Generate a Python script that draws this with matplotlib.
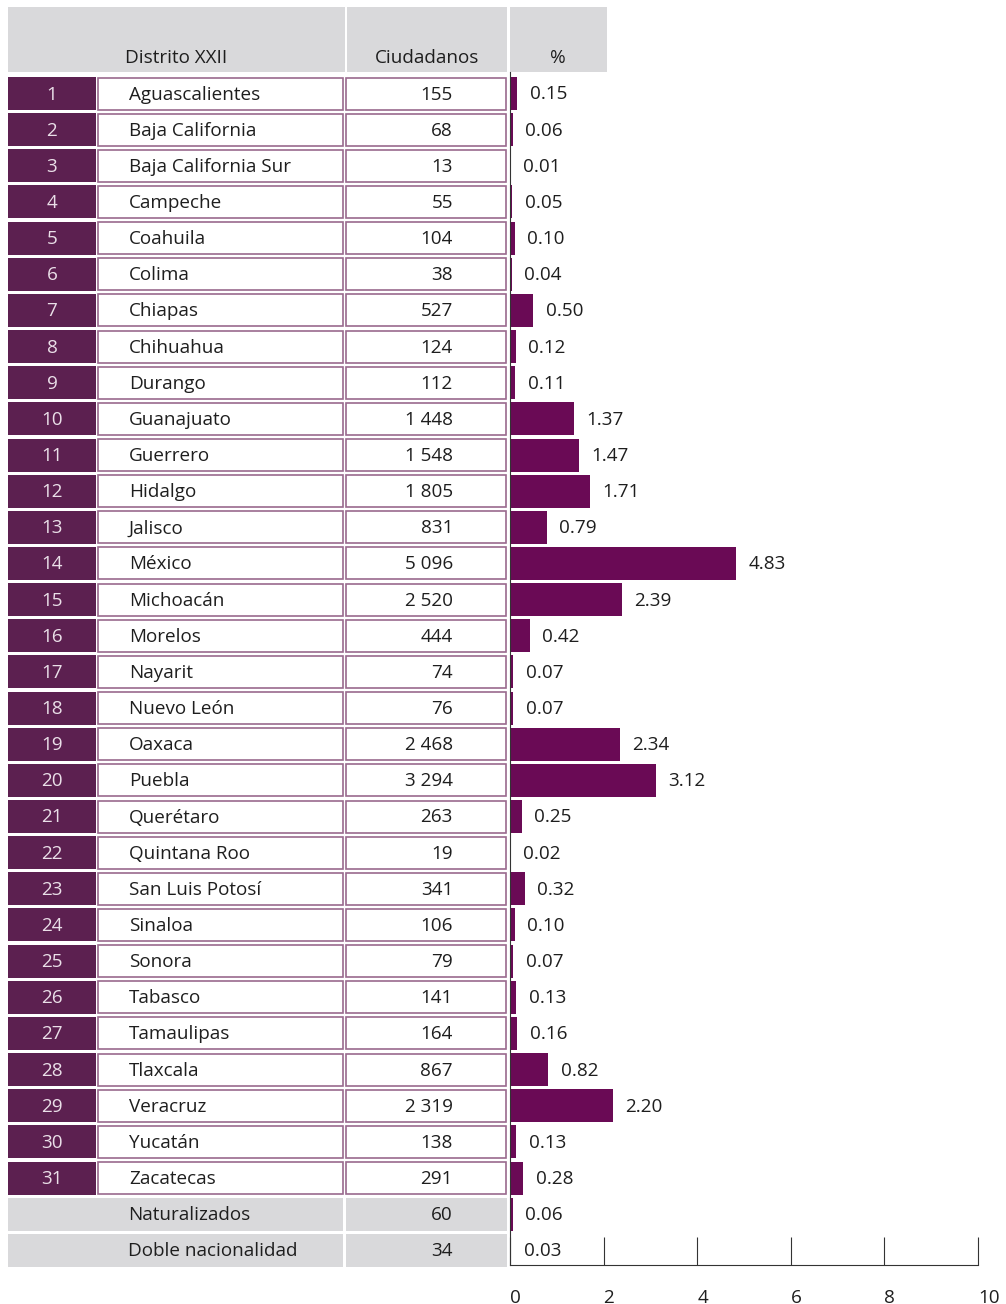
import numpy as np
import matplotlib.pyplot as plt
from matplotlib.patches import Rectangle

plt.rcParams['font.family'] = ['Open Sans', 'DejaVu Sans']

estados = ["Aguascalientes", "Baja California", "Baja California Sur", "Campeche",
           "Coahuila", "Colima", "Chiapas", "Chihuahua", "Durango", "Guanajuato",
           "Guerrero", "Hidalgo", "Jalisco", "México", "Michoacán", "Morelos",
           "Nayarit", "Nuevo León", "Oaxaca", "Puebla", "Querétaro", "Quintana Roo",
           "San Luis Potosí", "Sinaloa", "Sonora", "Tabasco", "Tamaulipas",
           "Tlaxcala", "Veracruz", "Yucatán", "Zacatecas"]
ciudadanos = [155, 68, 13, 55, 104, 38, 527, 124, 112, 1448, 1548, 1805, 831, 5096,
              2520, 444, 74, 76, 2468, 3294, 263, 19, 341, 106, 79, 141, 164, 867,
              2319, 138, 291]
porcentaje = [0.15, 0.06, 0.01, 0.05, 0.10, 0.04, 0.50, 0.12, 0.11, 1.37, 1.47, 1.71,
              0.79, 4.83, 2.39, 0.42, 0.07, 0.07, 2.34, 3.12, 0.25, 0.02, 0.32, 0.10,
              0.07, 0.13, 0.16, 0.82, 2.20, 0.13, 0.28]
extra_nombres = ["Naturalizados", "Doble nacionalidad"]
extra_ciudadanos = [60, 34]
extra_porcentaje = [0.06, 0.03]
encabezados = ["Distrito XXII", "Ciudadanos", "%"]
ticks = [0, 2, 4, 6, 8, 10]

morado = "#5c2050"
barra = "#6a0a55"
borde = "#9a6a8e"
gris = "#d9d9db"
texto = "#1e1e1e"
fs = 13.6

W, H = 1006, 1304
y0, paso, alto = 93.5, 36.15, 33


def fmt(v):
    return f"{v:,}".replace(",", " ")


fig = plt.figure(figsize=(W / 100, H / 100), dpi=100)
bg = fig.add_axes([0, 0, 1, 1])
bg.set_xlim(0, W)
bg.set_ylim(H, 0)
bg.axis('off')

# encabezado
bg.add_patch(Rectangle((8, 7), 337, 65, color=gris, lw=0))
bg.add_patch(Rectangle((347, 7), 160, 65, color=gris, lw=0))
bg.add_patch(Rectangle((510, 7), 97, 65, color=gris, lw=0))
bg.text(176, 58, encabezados[0], ha='center', va='center', fontsize=fs, color=texto)
bg.text(427, 58, encabezados[1], ha='center', va='center', fontsize=fs, color=texto)
bg.text(558, 58, encabezados[2], ha='center', va='center', fontsize=fs, color=texto)

for i, (nom, c) in enumerate(zip(estados, ciudadanos)):
    yc = y0 + i * paso
    top = yc - alto / 2
    bg.add_patch(Rectangle((8, top), 88, alto, color=morado, lw=0))
    bg.add_patch(Rectangle((98.5, top + 0.5), 244.5, alto - 1, facecolor='white',
                           edgecolor=borde, lw=1.2))
    bg.add_patch(Rectangle((346.5, top + 0.5), 160, alto - 1, facecolor='white',
                           edgecolor=borde, lw=1.2))
    bg.text(52, yc + 1, str(i + 1), ha='center', va='center', fontsize=fs, color='#eadfe8')
    bg.text(129, yc + 1, nom, ha='left', va='center', fontsize=fs, color=texto)
    bg.text(453, yc + 1, fmt(c), ha='right', va='center', fontsize=fs, color=texto)

for j, (nom, c) in enumerate(zip(extra_nombres, extra_ciudadanos)):
    yc = y0 + (len(estados) + j) * paso
    top = yc - alto / 2
    bg.add_patch(Rectangle((8, top), 335, alto, color=gris, lw=0))
    bg.add_patch(Rectangle((346, top), 161, alto, color=gris, lw=0))
    bg.text(128, yc + 1, nom, ha='left', va='center', fontsize=fs, color=texto)
    bg.text(453, yc + 1, fmt(c), ha='right', va='center', fontsize=fs, color=texto)

# barras
x_left, x_right = 510, 978
y_top, y_bot = 72, 1265
ax = fig.add_axes([x_left / W, (H - y_bot) / H, (x_right - x_left) / W, (y_bot - y_top) / H])
ax.patch.set_alpha(0)
valores = porcentaje + extra_porcentaje
pos = np.arange(len(valores))
ax.barh(pos, valores, height=alto / paso, color=barra, lw=0)
for p, v in zip(pos, valores):
    ax.annotate(f"{v:.2f}", (v, p), xytext=(9, -0.7), textcoords='offset points',
                ha='left', va='center', fontsize=fs, color=texto)
ax.set_xlim(0, 10)
ax.set_ylim((y_bot - y0) / paso, (y_top - y0) / paso)
ax.set_xticks(ticks)
ax.set_xticklabels([str(t) for t in ticks])
for lab in ax.get_xticklabels():
    lab.set_horizontalalignment('left')
ax.set_yticks([])
ax.tick_params(axis='x', direction='in', length=20, width=0.8, color='#333333',
               pad=17, labelsize=fs, labelcolor=texto)
for s in ['top', 'right']:
    ax.spines[s].set_visible(False)
for s in ['left', 'bottom']:
    ax.spines[s].set_linewidth(0.8)
    ax.spines[s].set_color('#333333')

fig.savefig("out.png", dpi=100)
